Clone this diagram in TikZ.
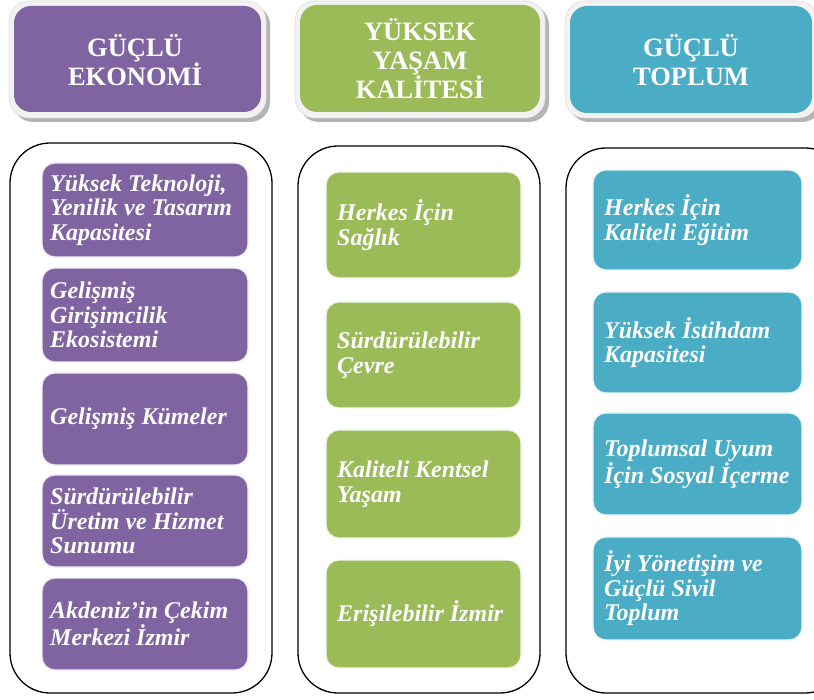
\documentclass[tikz,border=0pt]{standalone}
\usepackage{fontspec}
\setmainfont{Liberation Serif}
\definecolor{cpurple}{HTML}{8064A2}
\definecolor{cgreen}{HTML}{9BBB59}
\definecolor{cblue}{HTML}{4BACC6}
\definecolor{cshadow}{HTML}{B4B4B4}
\definecolor{cframe}{HTML}{F2F2F2}
\tikzset{
  hdrshadow/.style={fill=cshadow, rounded corners=20pt},
  hdrframe/.style={fill=cframe, draw=black!12, line width=0.6pt, rounded corners=20pt},
  hdrbox/.style={rounded corners=17pt},
  hdrtext/.style={text=white, font=\bfseries\fontsize{26.5}{29}\selectfont, align=center, inner sep=0pt},
  container/.style={draw=black, line width=1.3pt, rounded corners=40pt},
  itembox/.style={rounded corners=13pt, line width=1.2pt, inner sep=0pt},
  itemtext/.style={text=white, font=\bfseries\itshape\fontsize{24}{24.5}\selectfont, align=left, inner sep=0pt, anchor=west},
}
\begin{document}
\begin{tikzpicture}[x=1pt,y=-1pt]
\useasboundingbox (0,0) rectangle (814,700);
\clip (0,0) rectangle (814,700);
% ---------- headers ----------
\fill[hdrshadow] (13,5) rectangle (270,122);
\filldraw[hdrframe] (9,1) rectangle (266,118);
\fill[hdrbox, cpurple] (14,6) rectangle (261,112);
\node[hdrtext] (h1) at (135,60) {GÜÇLÜ\\EKONOMİ};

\fill[hdrshadow] (299,5) rectangle (549,122);
\filldraw[hdrframe] (295,1) rectangle (545,118);
\fill[hdrbox, cgreen] (300,5) rectangle (540,112);
\node[hdrtext] (h2) at (420,59) {YÜKSEK\\YAŞAM\\KALİTESİ};

\fill[hdrshadow] (569,5) rectangle (822,122);
\filldraw[hdrframe] (565,1) rectangle (818,118);
\fill[hdrbox, cblue] (570,6) rectangle (812,113);
\node[hdrtext] (h3) at (691,60) {GÜÇLÜ\\TOPLUM};

% ---------- containers ----------
\draw[container] (10,143) rectangle (272,693);
\draw[container] (298,146) rectangle (540,693);
\draw[container] (566,148) rectangle (845,693);

% ---------- left column ----------
\foreach \n/\ya/\yb in {a1/163/257, a2/268/362, a3/373/465, a4/475/567, a5/578/670}{
  \filldraw[itembox, fill=cpurple, draw=cpurple!12] (42,\ya) rectangle (248,\yb);
  \coordinate (\n) at (50,{(\ya+\yb)/2});
}
\node[itemtext] (ta1) at (a1) {Yüksek Teknoloji,\\Yenilik ve Tasarım\\Kapasitesi};
\node[itemtext] (ta2) at (a2) {Gelişmiş\\Girişimcilik\\Ekosistemi};
\node[itemtext] (ta3) at (a3) {Gelişmiş Kümeler};
\node[itemtext] (ta4) at (a4) {Sürdürülebilir\\Üretim ve Hizmet\\Sunumu};
\node[itemtext] (ta5) at (a5) {Akdeniz’in Çekim\\Merkezi İzmir};

% ---------- middle column ----------
\foreach \n/\ya/\yb in {b1/172/278, b2/302/408, b3/430/538, b4/560/668}{
  \filldraw[itembox, fill=cgreen, draw=cgreen!12] (326,\ya) rectangle (521,\yb);
  \coordinate (\n) at (337,{(\ya+\yb)/2});
}
\node[itemtext] (tb1) at (b1) {Herkes İçin\\Sağlık};
\node[itemtext] (tb2) at (b2) {Sürdürülebilir\\Çevre};
\node[itemtext] (tb3) at (b3) {Kaliteli Kentsel\\Yaşam};
\node[itemtext] (tb4) at (b4) {Erişilebilir İzmir};

% ---------- right column ----------
\foreach \n/\ya/\yb in {c1/170/270, c2/292/393, c3/413/515, c4/537/640}{
  \filldraw[itembox, fill=cblue, draw=cblue!12] (593,\ya) rectangle (802,\yb);
  \coordinate (\n) at (604,{(\ya+\yb)/2});
}
\node[itemtext] (tc1) at (c1) {Herkes İçin\\Kaliteli Eğitim};
\node[itemtext] (tc2) at (c2) {Yüksek İstihdam\\Kapasitesi};
\node[itemtext] (tc3) at (c3) {Toplumsal Uyum\\İçin Sosyal İçerme};
\node[itemtext] (tc4) at (c4) {İyi Yönetişim ve\\Güçlü Sivil\\Toplum};
\end{tikzpicture}
\end{document}
